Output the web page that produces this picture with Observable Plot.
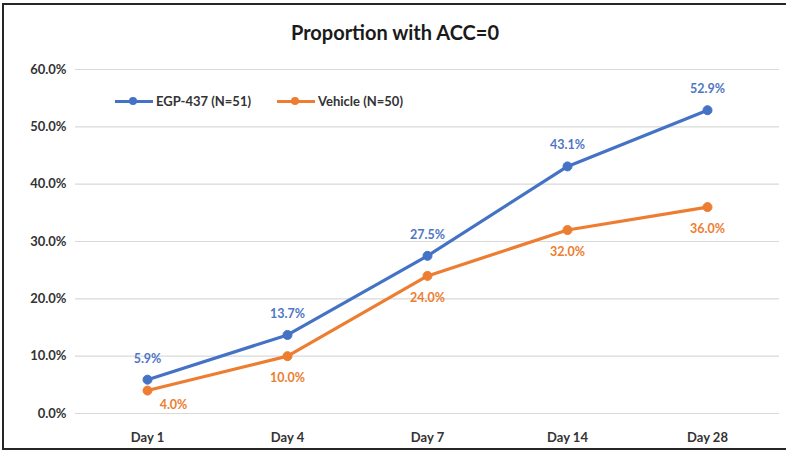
<!DOCTYPE html>
<html>
<head>
<meta charset="utf-8">
<script src="https://cdn.jsdelivr.net/npm/d3@7"></script>
<script src="https://cdn.jsdelivr.net/npm/@observablehq/plot@0.6"></script>
<style>
  html, body { margin: 0; padding: 0; background: #fff; }
  body { width: 786px; height: 455px; position: relative; overflow: hidden; font-family: Lato, "Open Sans", sans-serif; }
  #frame { position: absolute; left: 2px; top: 3px; width: 800px; height: 447px; border: 2px solid #262626; box-sizing: border-box; }
  #title { position: absolute; left: 0; width: 790px; top: 20px; text-align: center; font-size: 20px; font-weight: bold; color: #1a1a1a; }
  #chart { position: absolute; left: 0; top: 50px; }
  #legend { position: absolute; left: 115px; top: 93px; display: flex; align-items: center; font-size: 13px; font-weight: bold; color: #333; }
  .item { display: flex; align-items: center; margin-right: 26px; }
  .sw { position: relative; width: 38px; height: 12px; margin-right: 3px; }
  .sw .ln { position: absolute; left: 0; right: 0; top: 4.5px; height: 3px; }
  .sw .dt { position: absolute; left: 14px; top: 2px; width: 8px; height: 8px; border-radius: 50%; }
</style>
</head>
<body>
<div id="frame"></div>
<div id="title">Proportion with ACC=0</div>
<div id="chart"></div>
<div id="legend"></div>
<script>
const days = ["Day 1", "Day 4", "Day 7", "Day 14", "Day 28"];
const seriesNames = ["EGP-437 (N=51)", "Vehicle (N=50)"];
const egpValues = [5.9, 13.7, 27.5, 43.1, 52.9];
const vehicleValues = [4.0, 10.0, 24.0, 32.0, 36.0];
const yTicks = [0, 10, 20, 30, 40, 50, 60];
const colors = ["#4472C4", "#ED7D31"];

const data = [];
days.forEach((d, i) => {
  data.push({day: d, series: seriesNames[0], value: egpValues[i], idx: i});
  data.push({day: d, series: seriesNames[1], value: vehicleValues[i], idx: i});
});
const egp = data.filter(d => d.series === seriesNames[0]);
const veh = data.filter(d => d.series === seriesNames[1]);
const fmt = v => v.toFixed(1) + "%";

const chart = Plot.plot({
  width: 786,
  height: 405,
  marginLeft: 75,
  marginRight: 7,
  marginTop: 19,
  marginBottom: 42,
  style: {fontFamily: "Lato, 'Open Sans', sans-serif", fontSize: "13px", background: "transparent"},
  x: {type: "point", domain: days, padding: 0.5, label: null, tickSize: 0, tickPadding: 19},
  y: {domain: [0, 60], ticks: yTicks, tickFormat: fmt, label: null, tickSize: 0, tickPadding: 9},
  color: {domain: seriesNames, range: colors},
  marks: [
    Plot.ruleY(yTicks, {stroke: "#d9d9d9", strokeWidth: 1.2}),
    Plot.line(data, {x: "day", y: "value", stroke: "series", strokeWidth: 3.2}),
    Plot.dot(data, {x: "day", y: "value", fill: "series", r: 4.5, stroke: "series", strokeWidth: 1}),
    Plot.text(egp, {x: "day", y: "value", text: d => fmt(d.value), dy: -21, fill: "#4F76C6", fontWeight: "bold", fontSize: 12.5}),
    Plot.text(veh.filter(d => d.idx > 0), {x: "day", y: "value", text: d => fmt(d.value), dy: 22, fill: "#ED7D31", fontWeight: "bold", fontSize: 12.5}),
    Plot.text(veh.filter(d => d.idx === 0), {x: "day", y: "value", text: d => fmt(d.value), dy: 14, dx: 26, fill: "#ED7D31", fontWeight: "bold", fontSize: 12.5})
  ]
});
chart.querySelectorAll("g[aria-label*='tick label']").forEach(g => { g.setAttribute("font-weight", "bold"); g.setAttribute("fill", "#333"); });
document.getElementById("chart").appendChild(chart);

const legend = document.getElementById("legend");
seriesNames.forEach((name, i) => {
  const item = document.createElement("div");
  item.className = "item";
  item.innerHTML = `<div class="sw"><div class="ln" style="background:${colors[i]}"></div><div class="dt" style="background:${colors[i]}"></div></div><span>${name}</span>`;
  legend.appendChild(item);
});
</script>
</body>
</html>
